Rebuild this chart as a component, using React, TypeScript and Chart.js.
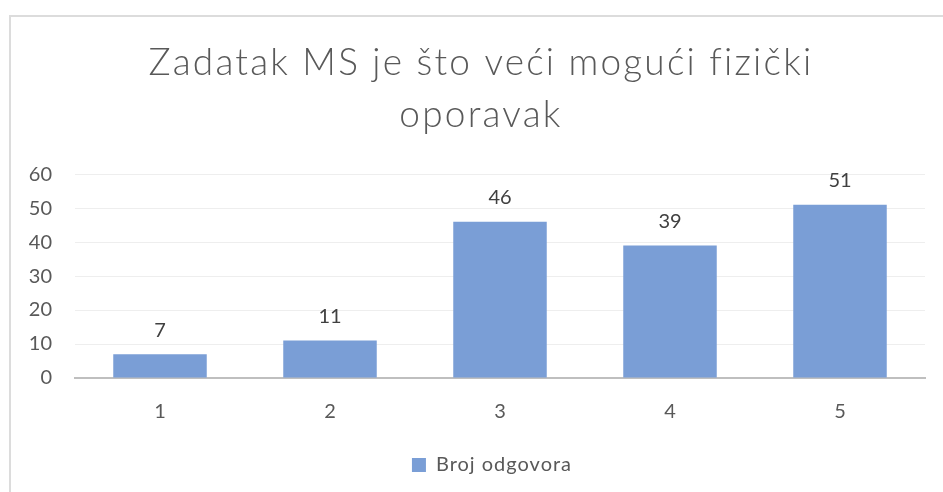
import React, { useEffect, useRef } from "react";
import { Chart, registerables } from "chart.js";

Chart.register(...registerables);

const categories = ["1", "2", "3", "4", "5"];
const seriesName = "Broj odgovora";
const values = [7, 11, 46, 39, 51];
const titleLines = ["Zadatak MS je što veći mogući fizički", "oporavak"];
const yMin = 0;
const yMax = 60;
const yStep = 10;

const FONT = "Lato, 'Open Sans', sans-serif";

const dataLabels = {
  id: "dataLabels",
  afterDatasetsDraw(chart: any) {
    const ctx = chart.ctx;
    ctx.save();
    ctx.font = `400 20px ${FONT}`;
    ctx.fillStyle = "#404040";
    ctx.textAlign = "center";
    ctx.textBaseline = "middle";
    chart.data.datasets.forEach((ds: any, i: number) => {
      const meta = chart.getDatasetMeta(i);
      meta.data.forEach((el: any, j: number) => {
        ctx.fillText(String(ds.data[j]), el.x, el.y - 24);
      });
    });
    ctx.restore();
  },
};

function wrapBox(chart: any, box: any, spacing: string, dx: number) {
  if (!box || box.__wrapped) return;
  const orig = box.draw.bind(box);
  box.draw = (...args: any[]) => {
    const c = chart.ctx;
    c.save();
    c.letterSpacing = spacing;
    c.translate(dx, 0);
    orig(...args);
    c.restore();
  };
  box.__wrapped = true;
}

const textStyle = {
  id: "textStyle",
  beforeDraw(chart: any) {
    wrapBox(chart, chart.titleBlock, "2.2px", 13.5);
    wrapBox(chart, chart.legend, "1px", 18);
  },
};

export default function App() {
  const ref = useRef<HTMLCanvasElement>(null);
  useEffect(() => {
    if (!ref.current) return;
    const chart = new Chart(ref.current, {
      type: "bar",
      data: {
        labels: categories,
        datasets: [
          {
            label: seriesName,
            data: values,
            backgroundColor: "#7A9ED6",
            borderWidth: 0,
            categoryPercentage: 1,
            barPercentage: 0.55,
          },
        ],
      },
      options: {
        animation: false,
        responsive: false,
        maintainAspectRatio: false,
        layout: { padding: { left: 10, right: 18, top: 0, bottom: 7 } },
        plugins: {
          title: {
            display: true,
            text: titleLines,
            color: "#595959",
            font: { family: FONT, size: 37, weight: "300", lineHeight: 1.38 },
            padding: { top: 38, bottom: 34 },
          },
          legend: {
            display: true,
            position: "bottom",
            labels: {
              color: "#595959",
              font: { family: FONT, size: 20 },
              boxWidth: 14,
              boxHeight: 14,
              padding: 10,
            },
          },
          tooltip: { enabled: false },
        },
        scales: {
          x: {
            grid: { display: false, drawTicks: false },
            border: { display: true, color: "#BFBFBF", width: 2 },
            ticks: {
              color: "#595959",
              font: { family: FONT, size: 20 },
              padding: 22,
            },
            afterFit(scale: any) {
              scale.height = 67;
            },
          },
          y: {
            min: yMin,
            max: yMax,
            ticks: {
              stepSize: yStep,
              color: "#595959",
              font: { family: FONT, size: 20 },
              padding: 23,
            },
            grid: { color: "#EEEEEE", lineWidth: 1, drawTicks: false },
            border: { display: false },
            afterFit(scale: any) {
              scale.width = 65;
            },
          },
        },
      },
      plugins: [dataLabels, textStyle],
    });
    chart.draw();
    return () => chart.destroy();
  }, []);

  return (
    <div
      style={{
        position: "fixed",
        left: 0,
        top: 0,
        width: 943,
        height: 492,
        background: "#ffffff",
        overflow: "hidden",
      }}
    >
      <div
        style={{
          position: "absolute",
          left: 9,
          top: 15,
          width: 1000,
          height: 600,
          border: "2px solid #DCDCDC",
          boxSizing: "border-box",
        }}
      />
      <canvas
        ref={ref}
        width={943}
        height={492}
        style={{ position: "absolute", left: 0, top: 0, width: 943, height: 492 }}
      />
    </div>
  );
}
